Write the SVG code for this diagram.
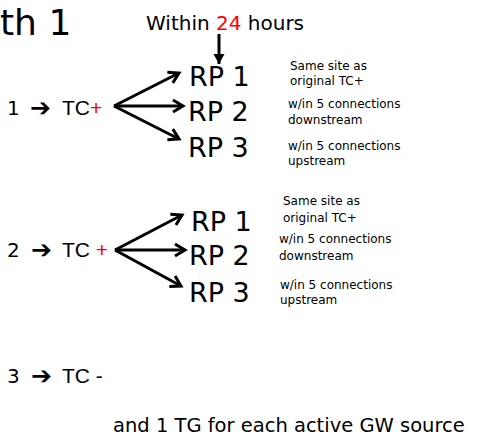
<svg xmlns="http://www.w3.org/2000/svg" width="477" height="436" viewBox="0 0 477 436">
<style>
text{font-family:"DejaVu Sans",Verdana,sans-serif;fill:#000}
.red{fill:#FF0000}
.tc{font-family:"Liberation Sans Narrow","Liberation Sans",Arial,sans-serif;font-size:21px}
.num{font-size:20px}
.arr{font-size:25px;font-weight:bold}
.rp{font-size:27px}
.note{font-size:12px}
.con{stroke:#000;stroke-width:3;fill:none}
</style>
<defs>
<marker id="chev" markerUnits="userSpaceOnUse" markerWidth="14" markerHeight="16" refX="11" refY="7" orient="auto" viewBox="0 0 14 14">
<path d="M1,1 L11,7 L1,13" fill="none" stroke="#000" stroke-width="3" stroke-linejoin="miter"/>
</marker>
<marker id="tri" markerUnits="userSpaceOnUse" markerWidth="12" markerHeight="12" refX="10" refY="5.5" orient="auto" viewBox="0 0 12 11">
<path d="M0,0 L10,5.5 L0,11 Z" fill="#000"/>
</marker>
</defs>
<g id="title"><text x="0" y="35" font-size="36">th 1</text></g>
<g id="within"><text x="146" y="30" font-size="20">Within <tspan class="red">24</tspan> hours</text></g>

<g id="row1">
<text class="num" x="7" y="115">1</text>
<text class="arr" x="30" y="116">➔</text>
<text class="tc" x="62" y="115">TC<tspan class="red">+</tspan></text>
</g>
<g id="rp1a"><text class="rp" x="189" y="86">RP 1</text></g>
<g id="rp2a"><text class="rp" x="188" y="121">RP 2</text></g>
<g id="rp3a"><text class="rp" x="188" y="157">RP 3</text></g>
<g id="notes1">
<text class="note" x="290" y="70">Same site as</text>
<text class="note" x="290" y="85">original TC+</text>
<text class="note" x="288" y="108">w/in 5 connections</text>
<text class="note" x="288" y="124">downstream</text>
<text class="note" x="288" y="150">w/in 5 connections</text>
<text class="note" x="288" y="165">upstream</text>
</g>

<g id="row2">
<text class="num" x="7" y="257">2</text>
<text class="arr" x="31" y="258">➔</text>
<text class="tc" x="62" y="257">TC <tspan class="red">+</tspan></text>
</g>
<g id="rp1b"><text class="rp" x="191" y="231">RP 1</text></g>
<g id="rp2b"><text class="rp" x="189" y="265">RP 2</text></g>
<g id="rp3b"><text class="rp" x="189" y="302">RP 3</text></g>
<g id="notes2">
<text class="note" x="283" y="205">Same site as</text>
<text class="note" x="283" y="222">original TC+</text>
<text class="note" x="279" y="243">w/in 5 connections</text>
<text class="note" x="279" y="260">downstream</text>
<text class="note" x="280" y="289">w/in 5 connections</text>
<text class="note" x="280" y="304">upstream</text>
</g>

<g id="row3">
<text class="num" x="7" y="383">3</text>
<text class="arr" x="31" y="384">➔</text>
<text class="tc" x="62" y="383">TC -</text>
</g>
<g id="footer"><text x="113" y="432" font-size="19.5">and 1 TG for each active GW source</text></g>

<g id="connectors">
<line class="con" x1="219" y1="34" x2="219" y2="64" marker-end="url(#tri)"/>
<line class="con" x1="114" y1="106" x2="179" y2="73" marker-end="url(#chev)"/>
<line class="con" x1="114" y1="106" x2="183" y2="106" marker-end="url(#chev)"/>
<line class="con" x1="114" y1="106" x2="179" y2="139" marker-end="url(#chev)"/>
<line class="con" x1="115" y1="250" x2="182" y2="215" marker-end="url(#chev)"/>
<line class="con" x1="115" y1="250" x2="185" y2="250" marker-end="url(#chev)"/>
<line class="con" x1="115" y1="250" x2="181" y2="286" marker-end="url(#chev)"/>
</g>
</svg>
